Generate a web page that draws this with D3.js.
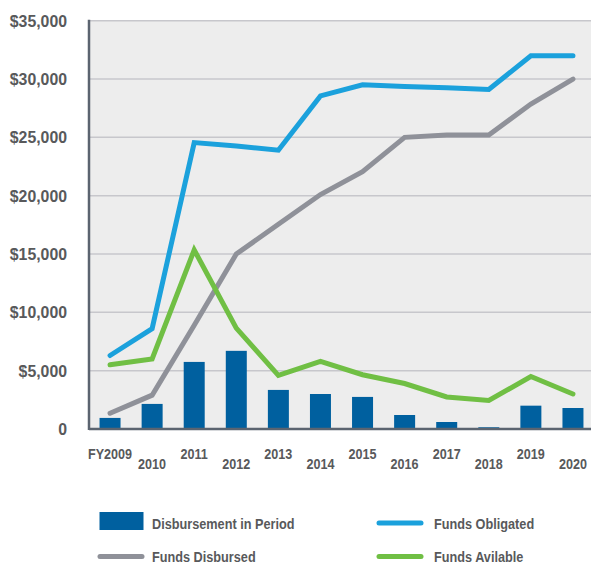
<!DOCTYPE html>
<html>
<head>
<meta charset="utf-8">
<script src="https://cdn.jsdelivr.net/npm/d3@7"></script>
<style>
  body { margin: 0; background: #fff; }
  svg text { font-family: "Liberation Sans", Arial, sans-serif; font-weight: bold; fill: #58595b; }
</style>
</head>
<body>
<div id="chart"></div>
<script>
// Fiscal years and series (in dollars)
const years = ["FY2009", "2010", "2011", "2012", "2013", "2014", "2015", "2016", "2017", "2018", "2019", "2020"];
const disbursementInPeriod = [950, 2150, 5750, 6700, 3350, 3000, 2750, 1200, 600, 150, 2000, 1800];
const fundsObligated = [6300, 8600, 24550, 24250, 23900, 28550, 29500, 29350, 29250, 29100, 32000, 32000];
const fundsDisbursed = [1350, 2900, 8900, 15000, 17550, 20100, 22050, 25000, 25200, 25200, 27850, 30000];
const fundsAvailable = [5500, 6000, 15350, 8650, 4600, 5800, 4650, 3900, 2750, 2450, 4500, 3000];
const yTicks = [0, 5000, 10000, 15000, 20000, 25000, 30000, 35000];

const colors = {
    bar: "#00609f",
    obligated: "#1ba1dc",
    disbursed: "#8f9199",
    available: "#70bf44"
};

// condensed-looking text: squeeze horizontally around the anchor point
function squeeze(sel, sx) {
    sel.attr("transform", function() {
        const tx = +this.getAttribute("x"), ty = +this.getAttribute("y");
        return `translate(${tx},${ty}) scale(${sx},1) translate(${-tx},${-ty})`;
    });
}

function createChart() {
    const width = 591;
    const height = 565;
    const plot = { left: 89, right: 594, top: 20.7, bottom: 429 };

    const svg = d3.select("#chart")
        .append("svg")
        .attr("width", width)
        .attr("height", height);

    const x = d3.scaleBand()
        .domain(years)
        .range([plot.left, plot.right]);

    const y = d3.scaleLinear()
        .domain([0, 35000])
        .range([plot.bottom, plot.top]);

    // plot background
    svg.append("rect")
        .attr("x", plot.left)
        .attr("y", plot.top)
        .attr("width", width - plot.left)
        .attr("height", plot.bottom - plot.top)
        .attr("fill", "#ededed");

    // gridlines
    svg.append("g")
        .selectAll("line")
        .data(yTicks.slice(1))
        .enter()
        .append("line")
        .attr("x1", plot.left)
        .attr("x2", width)
        .attr("y1", d => y(d))
        .attr("y2", d => y(d))
        .attr("stroke", "#c7c7cc")
        .attr("stroke-width", 1.5);

    // y tick labels
    svg.append("g")
        .selectAll("text")
        .data(yTicks)
        .enter()
        .append("text")
        .attr("x", 67)
        .attr("y", d => y(d) + 6)
        .attr("text-anchor", "end")
        .style("font-size", "16.5px")
        .text(d => d === 0 ? "0" : d3.format("$,")(d))
        .call(squeeze, 0.96);

    // bars
    svg.append("g")
        .selectAll("rect")
        .data(disbursementInPeriod)
        .enter()
        .append("rect")
        .attr("x", (d, i) => x(years[i]) + x.bandwidth() / 2 - 10.5)
        .attr("y", d => y(d))
        .attr("width", 21)
        .attr("height", d => plot.bottom - y(d))
        .attr("fill", colors.bar);

    // lines
    const line = d3.line()
        .x((d, i) => x(years[i]) + x.bandwidth() / 2)
        .y(d => y(d));

    [[fundsObligated, colors.obligated], [fundsDisbursed, colors.disbursed], [fundsAvailable, colors.available]]
        .forEach(([values, color]) => {
            svg.append("path")
                .datum(values)
                .attr("d", line)
                .attr("fill", "none")
                .attr("stroke", color)
                .attr("stroke-width", 5)
                .attr("stroke-linecap", "round")
                .attr("stroke-linejoin", "miter");
        });

    // axes lines
    svg.append("line")
        .attr("x1", plot.left).attr("x2", width)
        .attr("y1", plot.bottom).attr("y2", plot.bottom)
        .attr("stroke", "#5b6470").attr("stroke-width", 2.5);
    svg.append("line")
        .attr("x1", plot.left).attr("x2", plot.left)
        .attr("y1", plot.top - 1).attr("y2", plot.bottom + 1)
        .attr("stroke", "#5b6470").attr("stroke-width", 2.5);

    // x labels, staggered
    svg.append("g")
        .selectAll("text")
        .data(years)
        .enter()
        .append("text")
        .attr("x", d => x(d) + x.bandwidth() / 2)
        .attr("y", (d, i) => i % 2 === 0 ? 459 : 469.5)
        .attr("text-anchor", "middle")
        .style("font-size", "15px")
        .text(d => d)
        .call(squeeze, 0.84);

    // legend
    const legend = svg.append("g");
    legend.append("rect")
        .attr("x", 99.5).attr("y", 512)
        .attr("width", 44).attr("height", 18)
        .attr("fill", colors.bar);
    const legendLines = [
        { x: 377, y: 523, color: colors.obligated },
        { x: 98, y: 556.5, color: colors.disbursed },
        { x: 377, y: 556.5, color: colors.available }
    ];
    legendLines.forEach(l => {
        legend.append("line")
            .attr("x1", l.x + 2).attr("x2", l.x + 44)
            .attr("y1", l.y).attr("y2", l.y)
            .attr("stroke", l.color)
            .attr("stroke-width", 5)
            .attr("stroke-linecap", "round");
    });
    const legendLabels = [
        { x: 152, y: 529, text: "Disbursement in Period" },
        { x: 434, y: 529, text: "Funds Obligated" },
        { x: 152, y: 562.5, text: "Funds Disbursed" },
        { x: 434, y: 562.5, text: "Funds Avilable" }
    ];
    legend.selectAll("text.label")
        .data(legendLabels)
        .enter()
        .append("text")
        .attr("class", "label")
        .attr("x", d => d.x)
        .attr("y", d => d.y)
        .style("font-size", "15.5px")
        .text(d => d.text)
        .call(squeeze, 0.82);
}

document.addEventListener('DOMContentLoaded', createChart);
</script>
</body>
</html>
